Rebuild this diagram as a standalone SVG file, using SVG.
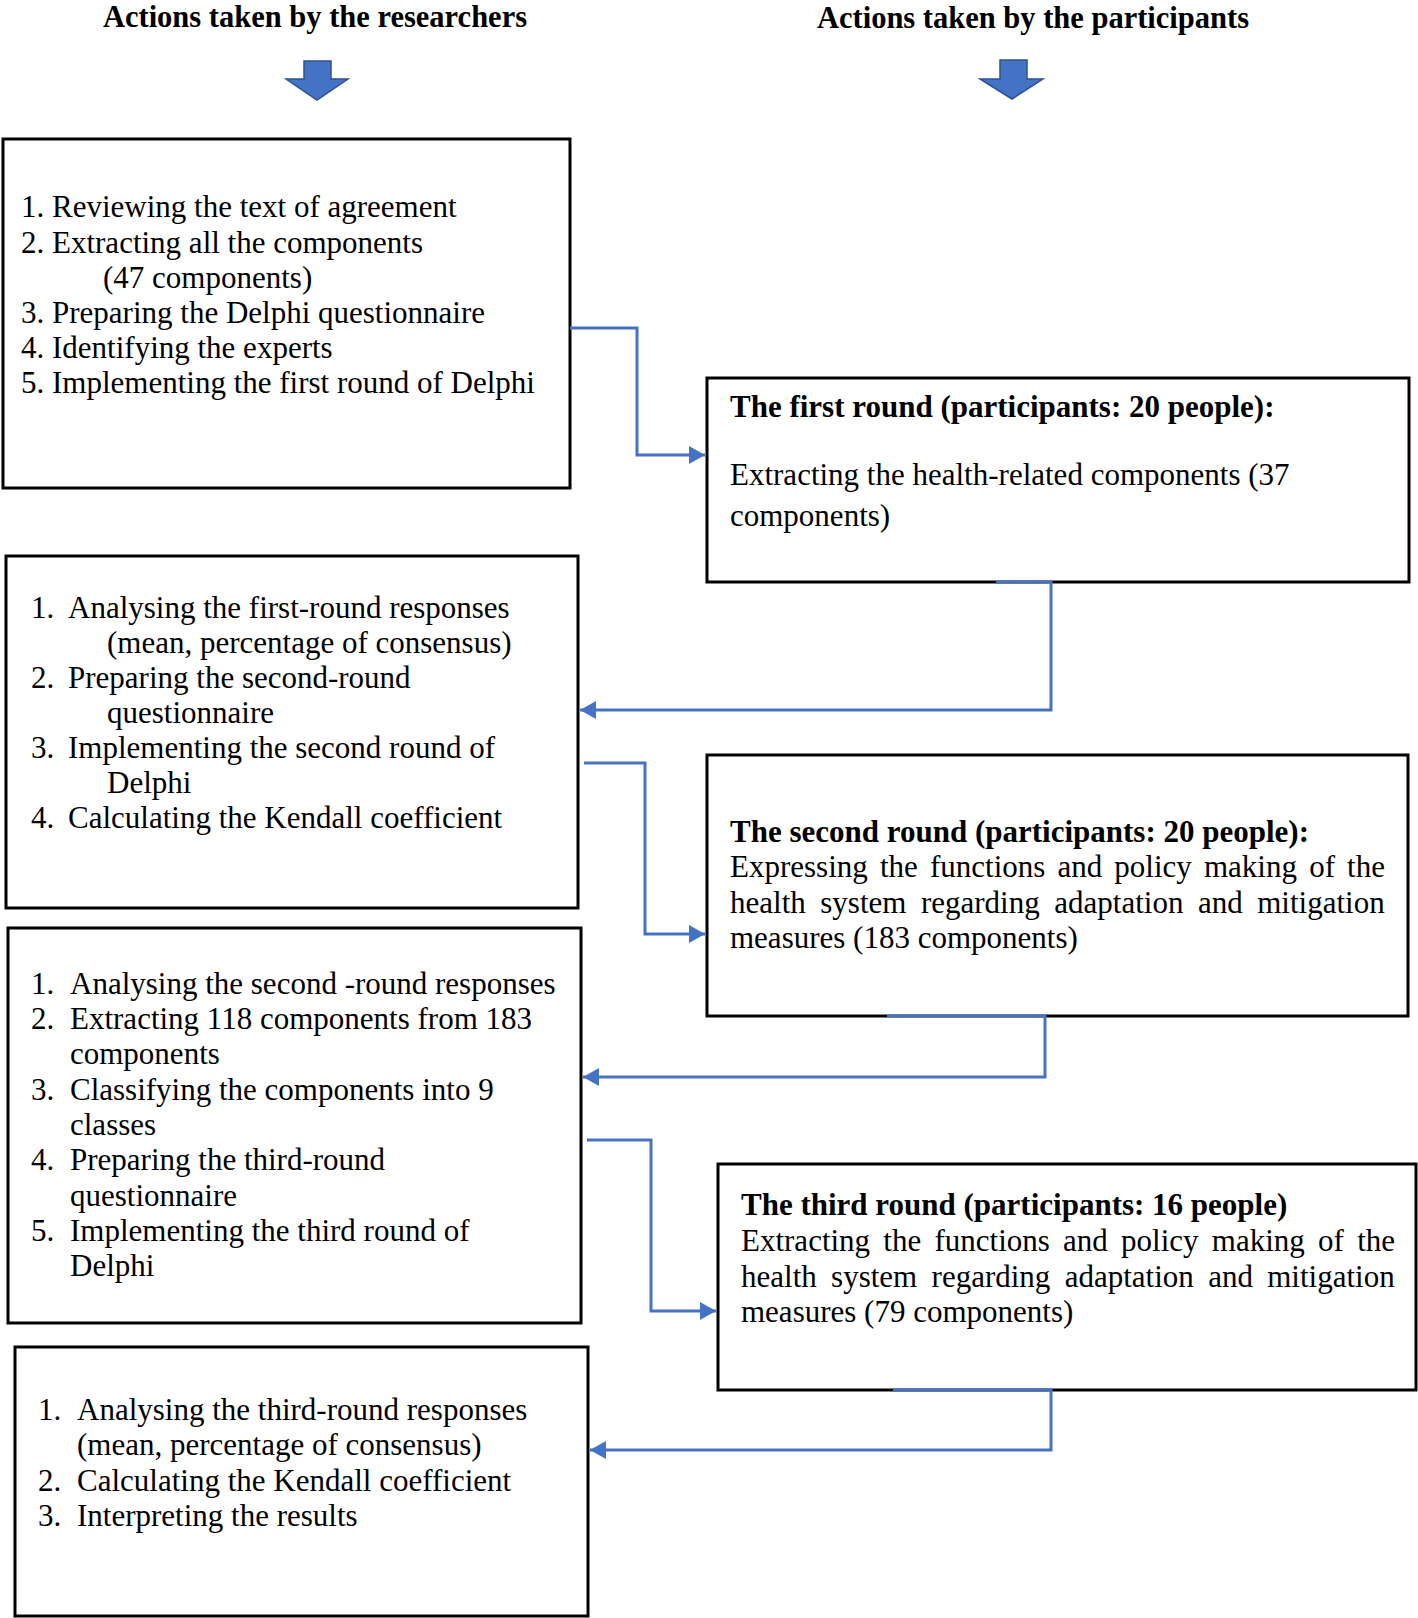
<svg xmlns="http://www.w3.org/2000/svg" width="1418" height="1618" viewBox="0 0 1418 1618">
<style>
text{font-family:"Liberation Serif","Times New Roman",serif;font-size:31px;fill:#000}
.b{font-weight:bold}
.h{font-size:30.5px}
.box{fill:#fff;stroke:#000;stroke-width:3}
.conn{fill:none;stroke:#4472C4;stroke-width:3}
.blk{fill:#4472C4;stroke:#2F528F;stroke-width:1.5}
</style>
<defs>
<marker id="ah" viewBox="0 0 16 18" markerWidth="16" markerHeight="18" refX="16" refY="9" orient="auto" markerUnits="userSpaceOnUse">
<path d="M0,0 L16,9 L0,18 z" fill="#4472C4"/>
</marker>
</defs>
<g id="headers">
<text class="b h" x="315" y="27" text-anchor="middle">Actions taken by the researchers</text>
<text class="b h" x="1033" y="28" text-anchor="middle">Actions taken by the participants</text>
<polygon class="blk" points="304,61 331,61 331,79 348,79 317,100 286,79 304,79"/>
<polygon class="blk" points="1000,60 1027,60 1027,79 1043,79 1012,99 980,79 1000,79"/>
</g>
<g id="r1">
<rect class="box" x="3" y="139" width="567" height="349"/>
<text x="21" y="217">1. Reviewing the text of agreement</text>
<text x="21" y="252.5">2. Extracting all the components</text>
<text x="103" y="287.5">(47 components)</text>
<text x="21" y="322.5">3. Preparing the Delphi questionnaire</text>
<text x="21" y="358">4. Identifying the experts</text>
<text x="21" y="393">5. Implementing the first round of Delphi</text>
</g>
<g id="p1">
<rect class="box" x="707" y="378" width="702" height="204"/>
<text class="b" x="730" y="417">The first round (participants: 20 people):</text>
<text x="730" y="485">Extracting the health-related components (37</text>
<text x="730" y="526">components)</text>
</g>
<g id="r2">
<rect class="box" x="6" y="556" width="572" height="352"/>
<text x="31" y="618">1.</text><text x="68" y="618">Analysing the first-round responses</text>
<text x="107" y="653">(mean, percentage of consensus)</text>
<text x="31" y="688">2.</text><text x="68" y="688">Preparing the second-round</text>
<text x="107" y="723">questionnaire</text>
<text x="31" y="758">3.</text><text x="68" y="758">Implementing the second round of</text>
<text x="107" y="793">Delphi</text>
<text x="31" y="828">4.</text><text x="68" y="828">Calculating the Kendall coefficient</text>
</g>
<g id="p2">
<rect class="box" x="707" y="755" width="701" height="261"/>
<text class="b" x="730" y="842">The second round (participants: 20 people):</text>
<text x="730" y="877" word-spacing="4.4">Expressing the functions and policy making of the</text>
<text x="730" y="912.5" word-spacing="6.8">health system regarding adaptation and mitigation</text>
<text x="730" y="948">measures (183 components)</text>
</g>
<g id="r3">
<rect class="box" x="8" y="928" width="573" height="395"/>
<text x="31" y="994">1.</text><text x="70" y="994">Analysing the second -round responses</text>
<text x="31" y="1029">2.</text><text x="70" y="1029">Extracting 118 components from 183</text>
<text x="70" y="1064">components</text>
<text x="31" y="1100">3.</text><text x="70" y="1100">Classifying the components into 9</text>
<text x="70" y="1135">classes</text>
<text x="31" y="1170">4.</text><text x="70" y="1170">Preparing the third-round</text>
<text x="70" y="1205.5">questionnaire</text>
<text x="31" y="1240.5">5.</text><text x="70" y="1240.5">Implementing the third round of</text>
<text x="70" y="1276">Delphi</text>
</g>
<g id="p3">
<rect class="box" x="718" y="1164" width="698" height="226"/>
<text class="b" x="741" y="1215">The third round (participants: 16 people)</text>
<text x="741" y="1250.5" word-spacing="5.5">Extracting the functions and policy making of the</text>
<text x="741" y="1286.5" word-spacing="6.6">health system regarding adaptation and mitigation</text>
<text x="741" y="1321.5">measures (79 components)</text>
</g>
<g id="r4">
<rect class="box" x="15" y="1347" width="573" height="269"/>
<text x="38" y="1420">1.</text><text x="77" y="1420">Analysing the third-round responses</text>
<text x="77" y="1455">(mean, percentage of consensus)</text>
<text x="38" y="1490.5">2.</text><text x="77" y="1490.5">Calculating the Kendall coefficient</text>
<text x="38" y="1525.5">3.</text><text x="77" y="1525.5">Interpreting the results</text>
</g>
<g id="connectors">
<path class="conn" d="M570,328 H637 V455 H705" marker-end="url(#ah)"/>
<path class="conn" d="M996,582 H1051 V710 H580" marker-end="url(#ah)"/>
<path class="conn" d="M584,763 H645 V934 H705" marker-end="url(#ah)"/>
<path class="conn" d="M887,1016 H1045 V1077 H583" marker-end="url(#ah)"/>
<path class="conn" d="M587,1140 H651 V1311 H716" marker-end="url(#ah)"/>
<path class="conn" d="M893,1390 H1051 V1450 H590" marker-end="url(#ah)"/>
</g>
</svg>
